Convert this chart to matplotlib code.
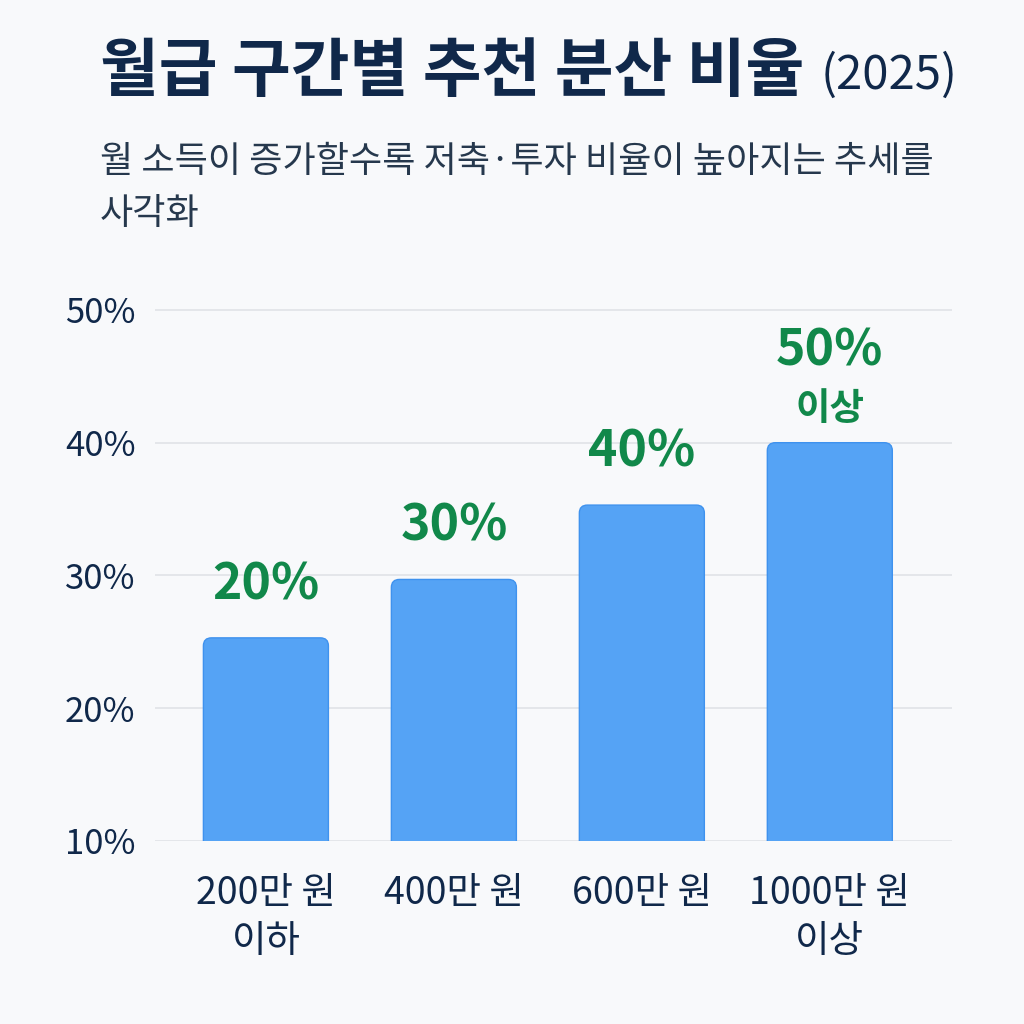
import matplotlib
matplotlib.use("Agg")
import matplotlib.pyplot as plt
from matplotlib.patches import FancyBboxPatch

plt.rcParams['font.family'] = ['Noto Sans CJK KR', 'DejaVu Sans']

# data
categories = ['200만 원\n이하', '400만 원', '600만 원', '1000만 원\n이상']
bar_heights = [25.3, 29.7, 35.3, 40.0]
value_labels = ['20%', '30%', '40%', '50%']
label_suffix = ['', '', '', '이상']
y_ticks = [10, 20, 30, 40, 50]

bg = '#f8f9fb'
navy = '#10284a'
green = '#11884a'
blue = '#55a3f5'

fig = plt.figure(figsize=(10.24, 10.24), dpi=100, facecolor=bg)
ax = fig.add_axes([155 / 1024, 1 - 841 / 1024, (952 - 155) / 1024, (841 - 290) / 1024])
ax.set_facecolor(bg)

x = list(range(len(categories)))
bars = ax.bar(x, bar_heights, width=0.665, color=blue)
ax.set_xlim(-0.59, 3.65)
ax.set_ylim(10, 51.5)

# swap plain bars for rounded-top ones
px_x = (952 - 155) / (3.65 + 0.59)
px_y = (841 - 310) / 40
for b in bars:
    bx, by, bw, bh = b.get_x(), b.get_y(), b.get_width(), b.get_height()
    b.remove()
    r = 8 / px_x
    p = FancyBboxPatch((bx, by), bw, bh, boxstyle=f'round,pad=0,rounding_size={r}',
                       mutation_aspect=px_x / px_y, facecolor=blue,
                       edgecolor='#3f92ee', linewidth=1, zorder=3)
    ax.add_patch(p)

for i, (h, lab, suf) in enumerate(zip(bar_heights, value_labels, label_suffix)):
    if suf:
        ax.annotate(suf, (i, h), xytext=(0, 34), textcoords='offset pixels',
                    ha='center', va='center', fontsize=27, fontweight='bold', color=green)
        ax.annotate(lab, (i, h), xytext=(0, 92), textcoords='offset pixels',
                    ha='center', va='center', fontsize=36, fontweight='bold', color=green)
    else:
        ax.annotate(lab, (i, h), xytext=(0, 53), textcoords='offset pixels',
                    ha='center', va='center', fontsize=36, fontweight='bold', color=green)

ax.set_yticks(y_ticks)
ax.set_yticklabels([f'{t}%' for t in y_ticks])
ax.set_xticks(x)
ax.set_xticklabels(categories, linespacing=1.3, fontweight='medium')
ax.tick_params(axis='y', length=0, pad=14, labelsize=25, labelcolor=navy)
ax.tick_params(axis='x', length=0, pad=24, labelsize=27, labelcolor=navy)
ax.grid(axis='y', color='#e1e3e7', linewidth=1.2, zorder=0)
ax.set_axisbelow(True)
for s in ax.spines.values():
    s.set_visible(False)

# title in two parts: bold korean + lighter year
t1 = fig.text(100 / 1024, 1 - 72 / 1024, '월급 구간별 추천 분산 비율', fontsize=46,
              fontweight='heavy', color=navy, va='center', ha='left')
fig.canvas.draw()
ext = t1.get_window_extent(fig.canvas.get_renderer())
fig.text(ext.x1 / 1024 + 16 / 1024, 1 - 76 / 1024, '(2025)', fontsize=34,
         color=navy, va='center', ha='left')

fig.text(100 / 1024, 1 - 162 / 1024, '월 소득이 증가할수록 저축·투자 비율이 높아지는 추세를',
         fontsize=26, color='#26384d', va='center', ha='left')
fig.text(100 / 1024, 1 - 214 / 1024, '사각화',
         fontsize=26, color='#26384d', va='center', ha='left')

fig.savefig('out.png', dpi=100, facecolor=bg)
